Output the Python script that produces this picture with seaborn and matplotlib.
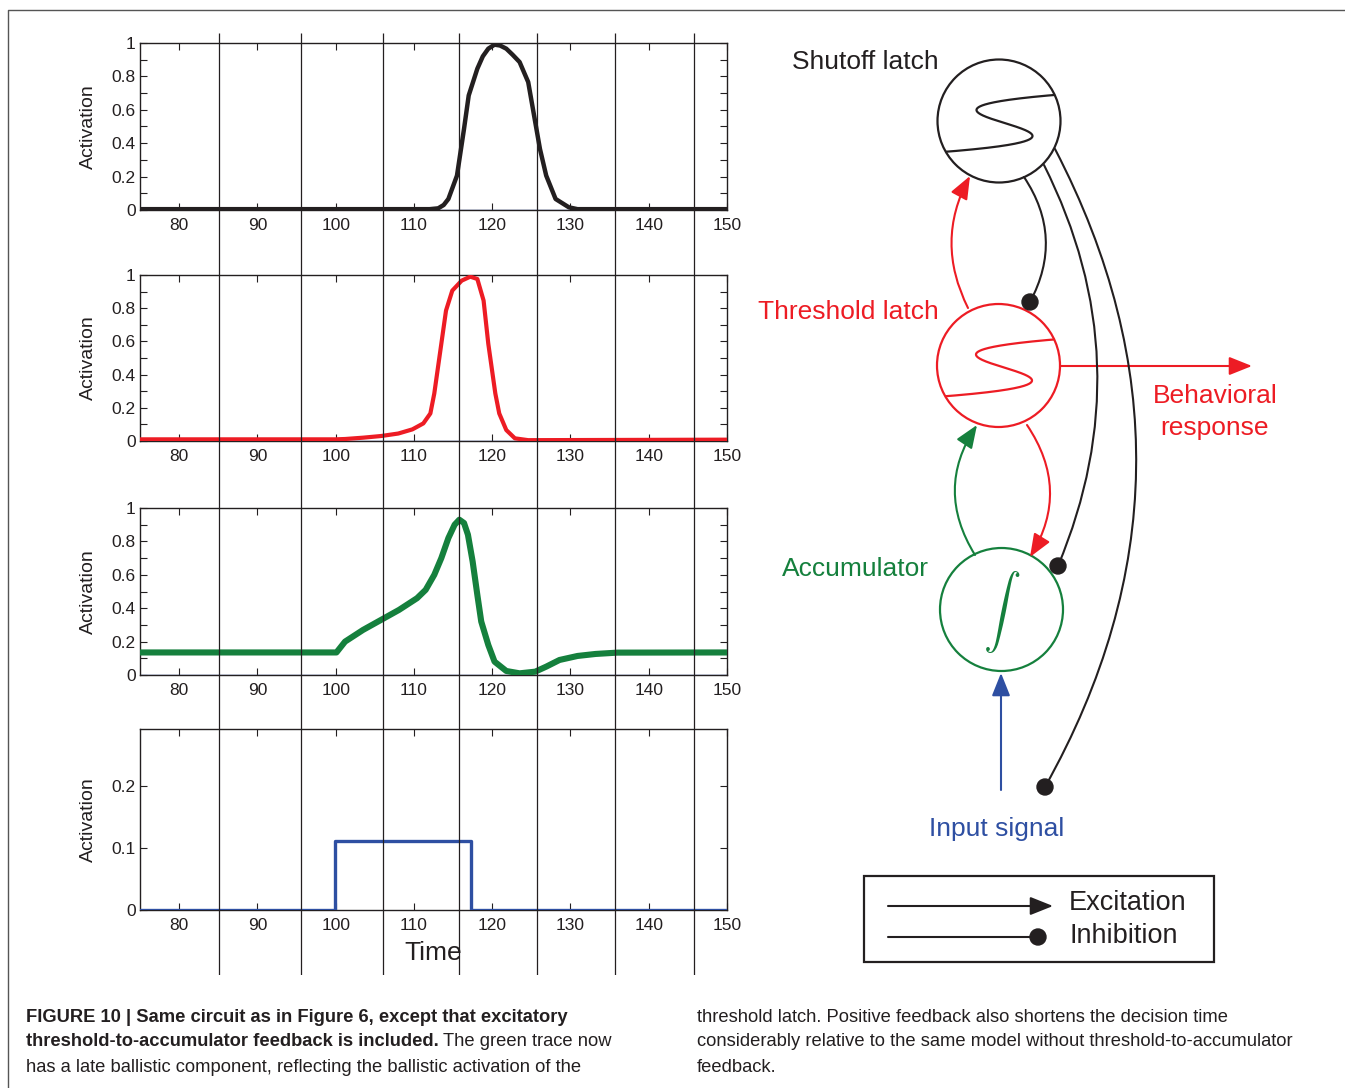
import numpy as np
import pandas as pd
import matplotlib
matplotlib.use("Agg")
import matplotlib.pyplot as plt
import seaborn as sns
from matplotlib.patches import Circle, FancyArrowPatch, Rectangle
from matplotlib.ticker import MultipleLocator, FuncFormatter, NullLocator

# ---------------- traces (time, activation) ----------------
shutoff_t = [75, 112.0, 113.1, 113.8, 114.4, 115.5, 116.4, 117.0, 118.1, 118.8, 119.5, 120.3,
             121.0, 121.8, 122.6, 123.5, 124.6, 125.5, 126.1, 126.9, 128.1, 129.8, 130.9, 150]
shutoff_v = [0.005, 0.005, 0.01, 0.03, 0.066, 0.206, 0.486, 0.686, 0.846, 0.92, 0.966, 0.99,
             0.985, 0.966, 0.93, 0.886, 0.766, 0.526, 0.366, 0.206, 0.066, 0.016, 0.005, 0.005]

threshold_t = [75, 100, 101.2, 103.5, 105.8, 108.0, 109.8, 111.2, 112.1, 112.6, 113.2,
               113.8, 114.1, 114.9, 116.1, 117.2, 118.1, 118.9, 119.5, 119.8, 120.4,
               120.9, 121.8, 122.9, 124.6, 150]
threshold_v = [0.01, 0.01, 0.012, 0.02, 0.03, 0.045, 0.07, 0.106, 0.166, 0.286, 0.486,
               0.686, 0.786, 0.906, 0.966, 0.99, 0.976, 0.846, 0.586, 0.486, 0.286,
               0.166, 0.066, 0.016, 0.005, 0.008]

accum_t = [75, 100.1, 101.2, 103.5, 105.8, 108.1, 110.4, 111.5, 112.6, 113.5, 114.4,
           115.2, 115.8, 116.4, 116.9, 117.5, 118.1, 118.6, 119.5, 120.3, 121.8, 123.5,
           125.5, 126.9, 128.6, 130.9, 133.2, 136.0, 150]
accum_v = [0.135, 0.135, 0.2, 0.27, 0.33, 0.39, 0.46, 0.51, 0.6, 0.7, 0.82,
           0.9, 0.93, 0.91, 0.84, 0.68, 0.48, 0.32, 0.18, 0.08, 0.024, 0.01,
           0.02, 0.05, 0.09, 0.114, 0.126, 0.134, 0.135]

input_t = [75, 99.9, 99.9, 117.3, 117.3, 150]
input_v = [0, 0, 0.111, 0.111, 0, 0]

marker_times = [85.1, 95.6, 106.0, 115.8, 125.7, 135.7, 145.8]
x_ticks = [80, 90, 100, 110, 120, 130, 140, 150]

BLACK = "#231f20"
RED = "#ed1c24"
GREEN = "#15803d"
BLUE = "#2e4fa2"

sns.set_theme(style="ticks")
plt.rcParams["font.family"] = ["Liberation Sans", "DejaVu Sans"]
plt.rcParams["axes.edgecolor"] = BLACK

W, H = 1345, 1088
fig = plt.figure(figsize=(W / 100, H / 100), dpi=100)
fig.patch.set_facecolor("white")


def px_axes(left, top, right, bottom, **kw):
    return fig.add_axes([left / W, 1 - bottom / H, (right - left) / W, (bottom - top) / H], **kw)


panels = [
    dict(top=43, bottom=210, t=shutoff_t, v=shutoff_v, c=BLACK, lw=3.2, ymax=1.0, major=0.2, minor=0.1),
    dict(top=275, bottom=441, t=threshold_t, v=threshold_v, c=RED, lw=3.0, ymax=1.0, major=0.2, minor=0.1),
    dict(top=508, bottom=675, t=accum_t, v=accum_v, c=GREEN, lw=4.4, ymax=1.0, major=0.2, minor=0.1),
    dict(top=729, bottom=910, t=input_t, v=input_v, c=BLUE, lw=2.4, ymax=0.292, major=0.1, minor=None),
]

fmt = FuncFormatter(lambda val, pos: f"{val:g}")
for i, p in enumerate(panels):
    ax = px_axes(140, p["top"], 727, p["bottom"])
    if i < 3:
        ax.axhline(0, color=BLUE, lw=1.0, zorder=1)
    df = pd.DataFrame({"Time": p["t"], "Activation": p["v"]})
    sns.lineplot(data=df, x="Time", y="Activation", ax=ax, color=p["c"], linewidth=p["lw"],
                 estimator=None, sort=False, legend=False, zorder=3)
    ax.set_xlim(75, 150)
    ax.set_ylim(0, p["ymax"])
    ax.set_xticks(x_ticks)
    ax.xaxis.set_minor_locator(NullLocator())
    ax.yaxis.set_major_locator(MultipleLocator(p["major"]))
    if p["minor"]:
        ax.yaxis.set_minor_locator(MultipleLocator(p["minor"]))
    else:
        ax.yaxis.set_minor_locator(NullLocator())
    ax.yaxis.set_major_formatter(fmt)
    ax.tick_params(axis="both", which="both", direction="in", top=True, right=True,
                   length=5, width=0.8, color=BLACK, labelsize=12.5, labelcolor=BLACK)
    ax.tick_params(axis="x", pad=6)
    ax.tick_params(axis="y", pad=3)
    for s in ax.spines.values():
        s.set_linewidth(1.0)
    ax.set_ylabel("Activation", fontsize=14, color=BLACK)
    ax.yaxis.set_label_coords(-0.073, 0.5)
    if i == 3:
        ax.set_xlabel("Time", fontsize=19, color=BLACK)
        ax.xaxis.set_label_coords(0.5, -0.17)
    else:
        ax.set_xlabel("")

# time markers running through all panels
vax = px_axes(140, 33, 727, 975)
vax.set_xlim(75, 150)
vax.set_ylim(0, 1)
vax.axis("off")
vax.vlines(marker_times, 0, 1, color=BLACK, lw=0.9)

# ---------------- circuit diagram ----------------
dax = fig.add_axes([0, 0, 1, 1])
dax.set_xlim(0, W)
dax.set_ylim(H, 0)
dax.axis("off")

# frame
dax.plot([8, 8, W], [H, 10, 10], color="#555555", lw=1.0)

R = 61.5
nodes = {
    "shutoff": ((999, 121), BLACK),
    "threshold": ((998.5, 365.5), RED),
    "accum": ((1001.5, 609.5), GREEN),
}
circles = {}
for name, (c, col) in nodes.items():
    circ = Circle(c, R, fill=False, ec=col, lw=1.6)
    dax.add_patch(circ)
    circles[name] = circ

# bistable S-curves inside the latches
s = np.linspace(-2.4, 2.4, 400)
for name in ("shutoff", "threshold"):
    (cx, cy), col = nodes[name]
    xs = cx + 5.5 + 14 * (s ** 3 - 3 * s)
    ys = cy + 2 - 13 * s
    ln, = dax.plot(xs, ys, color=col, lw=1.6)
    ln.set_clip_path(circles[name])

# integrator symbol
dax.text(1002, 612, r"$\int$", color=GREEN, fontsize=27, ha="center", va="center",
         math_fontfamily="cm")


def arrow(a, b, col, rad=0.0, head=True):
    style = "-|>,head_length=0.7,head_width=0.28" if head else "-"
    dax.add_patch(FancyArrowPatch(a, b, connectionstyle=f"arc3,rad={rad}", arrowstyle=style,
                                  mutation_scale=20, color=col, lw=1.5, shrinkA=0, shrinkB=0))


def dot(p, col=BLACK):
    dax.add_patch(Circle(p, 8, color=col, zorder=5))


# excitatory links
arrow((968, 308), (970, 176), RED, rad=-0.26)
arrow((975, 555), (977, 425), GREEN, rad=-0.32)
arrow((1027, 425), (1030, 557), RED, rad=-0.32)
arrow((1060, 366), (1252, 366), RED)
arrow((1001, 790), (1001, 673), BLUE)

# inhibitory links from the shutoff latch
arrow((1024, 177), (1030, 302), BLACK, rad=-0.3, head=False)
dot((1030, 302))
arrow((1044, 165), (1058, 566), BLACK, rad=-0.23, head=False)
dot((1058, 566))
arrow((1055, 149), (1045, 787), BLACK, rad=-0.27, head=False)
dot((1045, 787))

lab = dict(fontsize=19, ha="center", va="center")
dax.text(865, 62, "Shutoff latch", color=BLACK, **lab)
dax.text(848, 312, "Threshold latch", color=RED, **lab)
dax.text(855, 569, "Accumulator", color=GREEN, **lab)
dax.text(1215, 396, "Behavioral", color=RED, **lab)
dax.text(1215, 428, "response", color=RED, **lab)
dax.text(997, 829, "Input signal", color=BLUE, **lab)

# key
dax.add_patch(Rectangle((864, 876), 350, 86, fill=False, ec=BLACK, lw=1.6))
arrow((888, 906), (1053, 906), BLACK)
dax.plot([888, 1036], [937, 937], color=BLACK, lw=1.5)
dot((1038, 937))
dax.text(1069, 903, "Excitation", color=BLACK, fontsize=19.5, ha="left", va="center")
dax.text(1069, 936, "Inhibition", color=BLACK, fontsize=19.5, ha="left", va="center")

# ---------------- caption ----------------
CAP = 13.2
cap = dict(fontsize=CAP, color=BLACK, va="center", ha="left")
dax.text(26, 1017, "FIGURE 10 | Same circuit as in Figure 6, except that excitatory",
         fontweight="bold", **cap)
b2 = dax.text(26, 1042, "threshold-to-accumulator feedback is included.", fontweight="bold", **cap)
dax.annotate("The green trace now", xy=(1, 0), xycoords=b2, xytext=(3, 0),
             textcoords="offset points", fontsize=CAP, color=BLACK, va="bottom", ha="left")
dax.text(26, 1068, "has a late ballistic component, reflecting the ballistic activation of the", **cap)
dax.text(697, 1017, "threshold latch. Positive feedback also shortens the decision time", **cap)
dax.text(697, 1042, "considerably relative to the same model without threshold-to-accumulator", **cap)
dax.text(697, 1068, "feedback.", **cap)

fig.savefig("out.png", dpi=100, facecolor="white")
